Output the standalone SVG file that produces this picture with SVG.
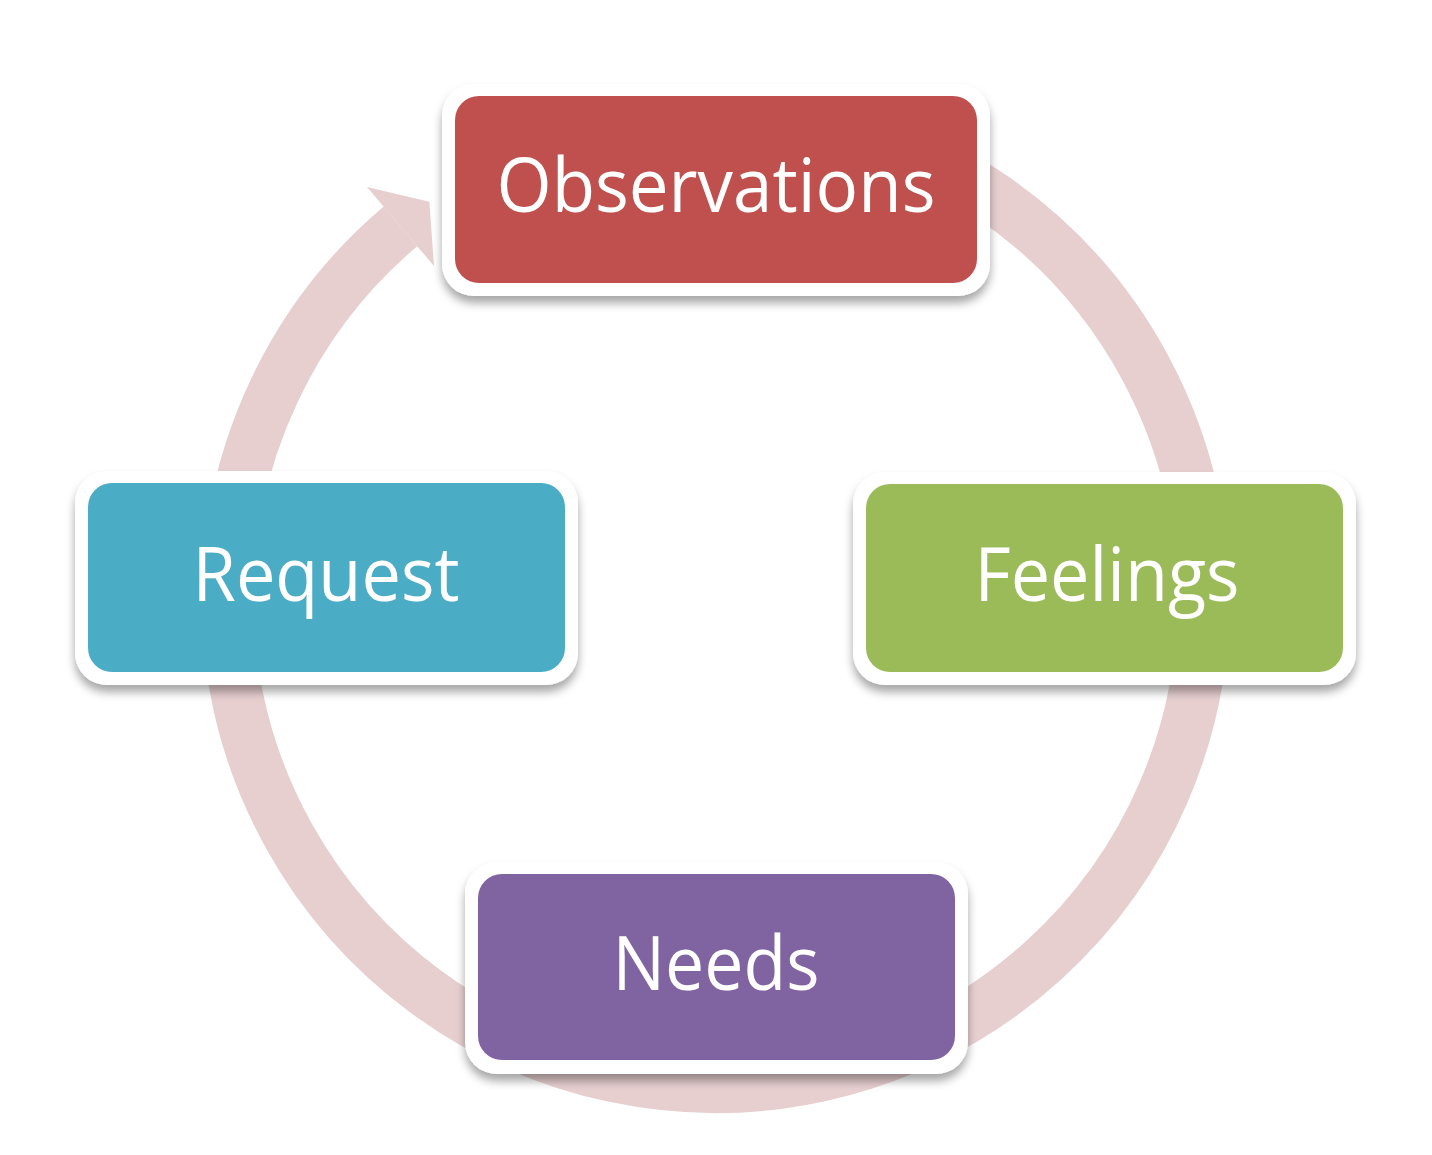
<svg xmlns="http://www.w3.org/2000/svg" width="1432" height="1155" viewBox="0 0 1432 1155">
<defs>
<style>
.frame{fill:#FFFFFF;filter:url(#sh)}
.lbl{font-family:"Open Sans","Liberation Sans",sans-serif;font-size:75px;fill:#FFFFFF;text-anchor:middle}
.ring{fill:none;stroke:#E7CFD0;stroke-width:52}
</style>
<filter id="sh" x="-10%" y="-10%" width="120%" height="130%">
<feDropShadow dx="0" dy="7" stdDeviation="5" flood-color="#000000" flood-opacity="0.35"/>
</filter>
</defs>
<rect width="1432" height="1155" fill="#FFFFFF"/>
<g id="connectors">
<path class="ring" d="M 800.2 118.4 A 488 488 0 1 1 400.5 226.3"/>
<polygon points="367,187 429.4,201.8 434,266" fill="#E7CFD0"/>
</g>
<g id="observations">
<rect class="frame" x="442" y="84" width="548" height="212" rx="32"/>
<rect x="455" y="96" width="522" height="187" rx="24" fill="#C0504D"/>
<text class="lbl" x="716" y="212" textLength="439" lengthAdjust="spacingAndGlyphs">Observations</text>
</g>
<g id="feelings">
<rect class="frame" x="853" y="472" width="503" height="213" rx="32"/>
<rect x="866" y="484" width="477" height="188" rx="24" fill="#9BBB59"/>
<text class="lbl" x="1107" y="601" textLength="265" lengthAdjust="spacingAndGlyphs">Feelings</text>
</g>
<g id="needs">
<rect class="frame" x="465" y="862" width="503" height="212" rx="32"/>
<rect x="478" y="874" width="477" height="186" rx="24" fill="#8064A2"/>
<text class="lbl" x="716" y="990" textLength="207" lengthAdjust="spacingAndGlyphs">Needs</text>
</g>
<g id="request">
<rect class="frame" x="75" y="471" width="503" height="214" rx="32"/>
<rect x="88" y="483" width="477" height="189" rx="24" fill="#4BACC6"/>
<text class="lbl" x="326" y="601" textLength="267" lengthAdjust="spacingAndGlyphs">Request</text>
</g>
</svg>
